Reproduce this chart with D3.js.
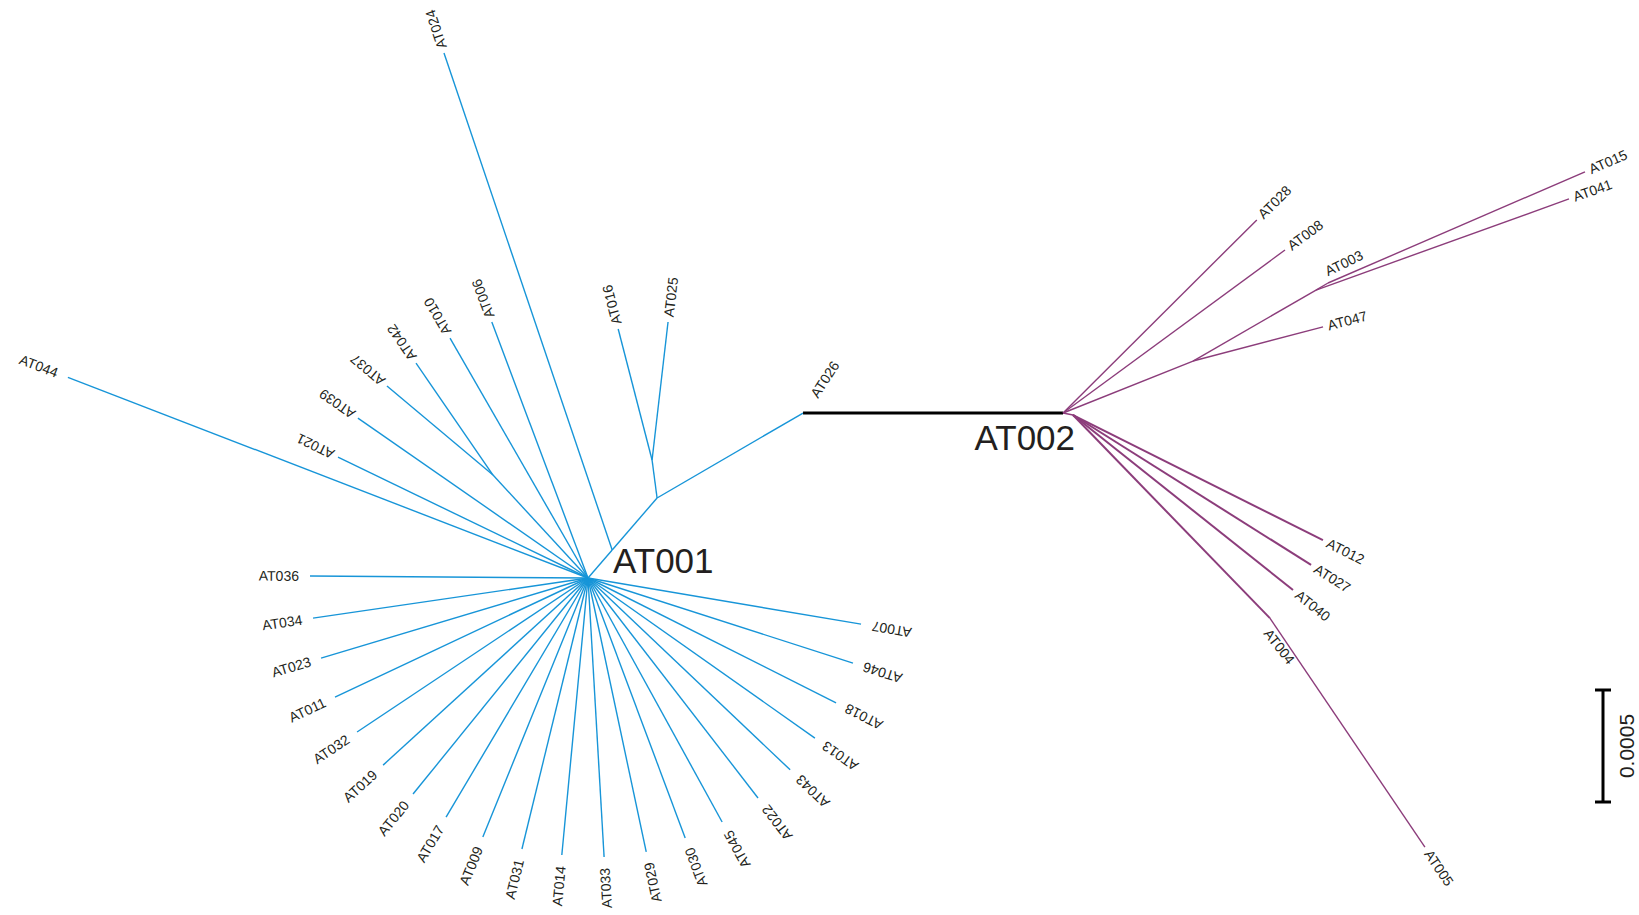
<!DOCTYPE html>
<html>
<head>
<meta charset="utf-8">
<script src="https://d3js.org/d3.v7.min.js"></script>
<style>
  html, body { margin: 0; padding: 0; background: #fff; }
  svg { display: block; }
</style>
</head>
<body>
<svg id="chart" width="1639" height="915"></svg>
<script>
// ---------------- DATA ----------------
// Each branch: parent node -> child node, branch length (substitutions/site), drawing direction (deg, screen coords)
const childNodes = [
  "n0","n1","n2","AT016","AT025","AT026","AT024",
  "n3","AT037","AT042",
  "AT044","AT021","AT039","AT010","AT006",
  "AT036","AT034","AT023","AT011","AT032","AT019","AT020","AT017","AT009","AT031",
  "AT014","AT033","AT029","AT030","AT045","AT022","AT043","AT013","AT018","AT046","AT007",
  "AT002","n7","AT028","AT008","n6","AT047","n5","AT041","AT003","AT015",
  "AT012","AT027","AT040","AT004","AT005"
];
const parentNodes = [
  "AT001","n0","n1","n2","n2","n1","n0",
  "AT001","n3","n3",
  "AT001","AT001","AT001","AT001","AT001",
  "AT001","AT001","AT001","AT001","AT001","AT001","AT001","AT001","AT001","AT001",
  "AT001","AT001","AT001","AT001","AT001","AT001","AT001","AT001","AT001","AT001","AT001",
  "AT026","AT002","AT002","AT002","AT002","n6","n6","n5","n5","AT003",
  "n7","n7","n7","n7","AT004"
];
const branchLengths = [
  0.0001652, 0.0003067, 0.0001710, 0.0006040, 0.0006201, 0.0007540, 0.0023420,
  0.0006254, 0.0006179, 0.0006067,
  0.0024888, 0.0012397, 0.0012509, 0.0012357, 0.0012205,
  0.0012411, 0.0012406, 0.0012442, 0.0012482, 0.0012393, 0.0012388, 0.0012411, 0.0012411, 0.0012478, 0.0012451,
  0.0012420, 0.0012478, 0.0012504, 0.0012388, 0.0012429, 0.0012411, 0.0012442, 0.0012397, 0.0012397, 0.0012424, 0.0012362,
  0.0011607, 0.0000455, 0.0012214, 0.0012295, 0.0006250, 0.0006000, 0.0006339, 0.0012004, 0.0000621, 0.0012500,
  0.0012478, 0.0012558, 0.0012549, 0.0012629, 0.0012344
];
const branchAngles = [
  -49.2, -49.2, -97.5, -104.5, -83.4, -30.2, -108.7,
  -132.7, -140.0, -124.5,
  -158.9, -154.2, -145.2, -119.9, -110.6,
  -179.6, 171.7, 163.3, 154.8, 146.3, 137.6, 129.0, 120.7, 112.1, 103.7,
  95.4, 86.7, 78.0, 69.5, 61.2, 52.3, 43.5, 35.2, 26.7, 17.8, 9.6,
  0.0, 11.3, -44.9, -36.3, -21.8, -14.7, -30.0, -19.8, -30.3, -23.4,
  26.6, 32.2, 38.5, 45.9, 55.9
];
const scaleBarValue = 0.0005;
const scaleBarLabel = "0.0005";

// ---------------- STYLE / LAYOUT ----------------
const root = "AT001";
const rootPos = [588, 578];
const blue = "#1795d8", purple = "#8c3d7b", black = "#000";
const textColor = "#231f20";
// tip labels read from the tip outward (rotated 180°, anchored at end)
const flippedLabels = new Set(["AT044","AT036","AT034","AT023","AT011","AT032","AT019","AT020","AT017",
  "AT009","AT031","AT014","AT033","AT029","AT030","AT045","AT022","AT043","AT013","AT018","AT046","AT007"]);
const labelAngleOverride = { AT026: -57 };
const hubLabels = {
  AT001: { rot: 0, a: 25, b: -5, size: 35, anchor: "start" },
  AT002: { rot: 0, a: 12, b: 37, size: 35, anchor: "end" },
  AT003: { rot: -26, a: 3, b: -6, size: 14, anchor: "start" },
  AT004: { rot: 52, a: 8, b: 15, size: 14, anchor: "start" }
};

// ---------------- BUILD ----------------
const lenScale = d3.scaleLinear().domain([0, scaleBarValue]).range([0, 112]);
const rad = d => d * Math.PI / 180;

const edges = childNodes.map((c, i) => ({
  child: c, parent: parentNodes[i], len: branchLengths[i], ang: branchAngles[i]
}));

const pos = {}; pos[root] = rootPos;
const angOf = {};
const parentOf = {};
edges.forEach(e => {
  const p = pos[e.parent];
  const L = lenScale(e.len);
  pos[e.child] = [p[0] + L * Math.cos(rad(e.ang)), p[1] + L * Math.sin(rad(e.ang))];
  angOf[e.child] = e.ang;
  parentOf[e.child] = e.parent;
});

function inPurple(n) {
  while (n) { if (n === "AT002") return true; n = parentOf[n]; }
  return false;
}
edges.forEach(e => {
  if (e.child === "AT002") { e.color = black; e.width = 3; }
  else if (inPurple(e.child)) { e.color = purple; e.width = e.parent === "n7" ? 2 : 1.4; }
  else { e.color = blue; e.width = 1.4; }
});

const svg = d3.select("#chart");
svg.append("rect").attr("width", 1639).attr("height", 915).attr("fill", "#fff");

svg.append("g").selectAll("line").data(edges).join("line")
  .attr("x1", d => pos[d.parent][0]).attr("y1", d => pos[d.parent][1])
  .attr("x2", d => pos[d.child][0]).attr("y2", d => pos[d.child][1])
  .attr("stroke", d => d.color).attr("stroke-width", d => d.width)
  .attr("stroke-linecap", "butt");

// tip labels
const tips = childNodes.filter(n => n.startsWith("AT") && !(n in hubLabels));
svg.append("g").selectAll("text").data(tips).join("text")
  .attr("font-family", "'Liberation Sans', Arial, sans-serif")
  .attr("font-size", 14)
  .attr("fill", textColor)
  .attr("dy", "0.35em")
  .each(function(n) {
    const flip = flippedLabels.has(n);
    const ang = labelAngleOverride[n] !== undefined ? labelAngleOverride[n] : angOf[n];
    const gap = flip ? 11 : (labelAngleOverride[n] !== undefined ? 20 : 5);
    const p = pos[n];
    const x = p[0] + gap * Math.cos(rad(ang)), y = p[1] + gap * Math.sin(rad(ang));
    d3.select(this)
      .attr("text-anchor", flip ? "end" : "start")
      .attr("transform", `translate(${x},${y}) rotate(${flip ? ang + 180 : ang})`)
      .text(n);
  });

// hub / internal named node labels
svg.append("g").selectAll("text").data(Object.keys(hubLabels)).join("text")
  .attr("font-family", "'Liberation Sans', Arial, sans-serif")
  .attr("fill", textColor)
  .each(function(n) {
    const s = hubLabels[n], p = pos[n];
    d3.select(this)
      .attr("font-size", s.size)
      .attr("text-anchor", s.anchor)
      .attr("transform", `translate(${p[0]},${p[1]}) rotate(${s.rot})`)
      .attr("x", s.a).attr("y", s.b)
      .text(n);
  });

// scale bar
const sbX = 1603, sbTop = 690;
const sbLen = lenScale(scaleBarValue);
const sb = svg.append("g").attr("stroke", "#000").attr("stroke-width", 3);
sb.append("line").attr("x1", sbX).attr("x2", sbX).attr("y1", sbTop).attr("y2", sbTop + sbLen);
sb.append("line").attr("x1", sbX - 8).attr("x2", sbX + 8).attr("y1", sbTop).attr("y2", sbTop);
sb.append("line").attr("x1", sbX - 8).attr("x2", sbX + 8).attr("y1", sbTop + sbLen).attr("y2", sbTop + sbLen);
svg.append("text")
  .attr("font-family", "'Liberation Sans', Arial, sans-serif")
  .attr("font-size", 21).attr("fill", textColor)
  .attr("text-anchor", "middle")
  .attr("transform", `translate(${sbX + 31},${sbTop + sbLen / 2}) rotate(-90)`)
  .text(scaleBarLabel);
</script>
</body>
</html>
